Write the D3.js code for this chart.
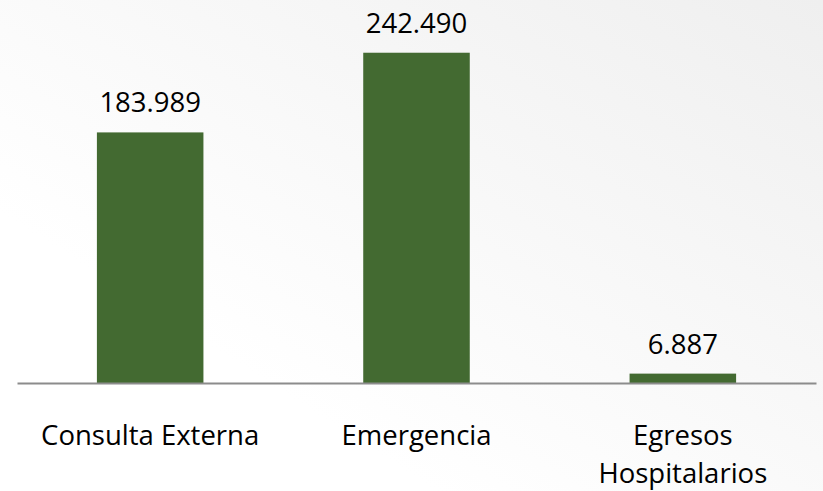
<!DOCTYPE html>
<html>
<head>
<meta charset="utf-8">
<script src="https://cdn.jsdelivr.net/npm/d3@7"></script>
<style>
  html, body { margin: 0; padding: 0; background: #fff; }
  svg text { font-family: "Open Sans", "Noto Sans", sans-serif; fill: #000; }
</style>
</head>
<body>
<div id="chart"></div>
<script>
// data
var categories = ["Consulta Externa", "Emergencia", "Egresos Hospitalarios"];
var values = [183989, 242490, 6887];
var valueLabels = ["183.989", "242.490", "6.887"];
var categoryLines = [["Consulta Externa"], ["Emergencia"], ["Egresos", "Hospitalarios"]];

var svgWidth = 823;
var svgHeight = 491;

var svg = d3.select("#chart")
  .append("svg")
  .attr("width", svgWidth)
  .attr("height", svgHeight);

// soft background like the slide: white on the left, light grey towards the top right
var defs = svg.append("defs");
var grad = defs.append("linearGradient")
  .attr("id", "bg")
  .attr("x1", "25%").attr("y1", "70%")
  .attr("x2", "100%").attr("y2", "0%");
grad.append("stop").attr("offset", "0%").attr("stop-color", "#ffffff");
grad.append("stop").attr("offset", "100%").attr("stop-color", "#efefef");

svg.append("rect")
  .attr("width", svgWidth)
  .attr("height", svgHeight)
  .attr("fill", "url(#bg)");

// scales
var x = d3.scaleBand()
  .domain(categories)
  .range([17, 816])
  .paddingInner(0.6)
  .paddingOuter(0.3);

var y = d3.scaleLinear()
  .domain([0, 250000])
  .range([383, 42.5]);

var data = categories.map(function(c, i) {
  return { name: c, value: values[i], label: valueLabels[i], lines: categoryLines[i] };
});

// bars
svg.selectAll("rect.bar")
  .data(data)
  .enter()
  .append("rect")
  .attr("class", "bar")
  .attr("x", d => x(d.name))
  .attr("width", x.bandwidth())
  .attr("y", d => y(d.value))
  .attr("height", d => y(0) - y(d.value))
  .attr("fill", "#436a31");

// baseline
var bottomAxis = d3.axisBottom(x).tickSize(0).tickFormat("");
var axisG = svg.append("g")
  .attr("transform", `translate(0, ${y(0)})`)
  .call(bottomAxis);
axisG.select(".domain")
  .attr("stroke", "#8c8c8c")
  .attr("stroke-width", 2);

// value labels
svg.selectAll("text.value")
  .data(data)
  .enter()
  .append("text")
  .attr("class", "value")
  .attr("x", d => x(d.name) + x.bandwidth() / 2)
  .attr("y", d => y(d.value) - 20)
  .attr("text-anchor", "middle")
  .style("font-size", "27.5px")
  .text(d => d.label);

// category labels
var catG = svg.selectAll("text.cat")
  .data(data)
  .enter()
  .append("text")
  .attr("class", "cat")
  .attr("text-anchor", "middle")
  .attr("x", d => x(d.name) + x.bandwidth() / 2)
  .attr("y", 445)
  .style("font-size", "27.5px");

catG.selectAll("tspan")
  .data(d => d.lines.map(l => ({ line: l, cx: x(d.name) + x.bandwidth() / 2 })))
  .enter()
  .append("tspan")
  .attr("x", d => d.cx)
  .attr("dy", (d, i) => i === 0 ? 0 : 38)
  .text(d => d.line);
</script>
</body>
</html>
